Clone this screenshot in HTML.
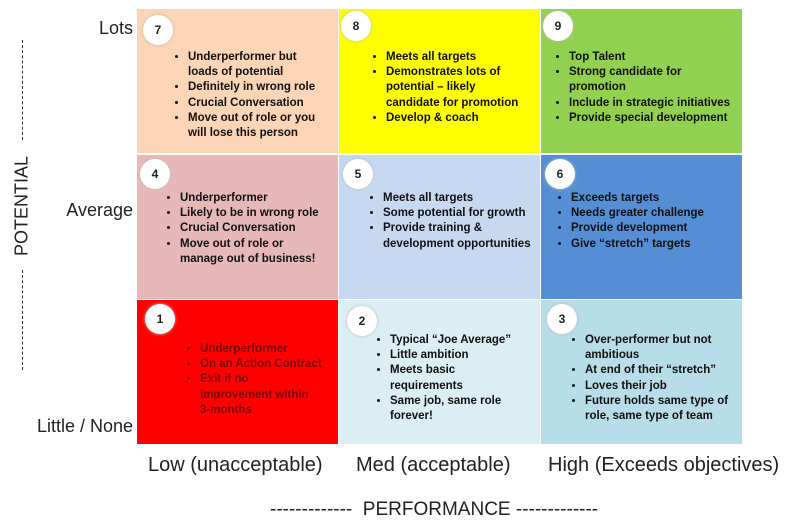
<!DOCTYPE html>
<html><head><style>
body{margin:0;width:800px;height:525px;background:#fff;position:relative;font-family:"Liberation Sans",sans-serif;overflow:hidden}
.c{position:absolute;width:201px;height:144px}
.n{position:absolute;width:30px;height:30px;border-radius:50%;background:#fff;box-shadow:0 0 3px #bbb;font-weight:bold;font-size:12px;text-align:center;line-height:30px;color:#222}
ul{position:absolute;margin:0;padding:0 0 0 16px;font-size:11.5px;font-weight:bold;line-height:15.2px;color:#111;white-space:nowrap}
.l{position:absolute;font-size:18px;color:#222;white-space:nowrap}
.b{font-size:20px}
.dv{position:absolute;left:22px;width:0;border-left:1px dashed #333}
</style></head><body>
<div class="c" style="left:137px;top:9px;background:#fbd5b5"></div>
<div class="c" style="left:339px;top:9px;background:#ffff00"></div>
<div class="c" style="left:541px;top:9px;background:#92d050"></div>
<div class="c" style="left:137px;top:155px;background:#e6b9b8"></div>
<div class="c" style="left:339px;top:155px;background:#c6d9f0"></div>
<div class="c" style="left:541px;top:155px;background:#558ed5"></div>
<div class="c" style="left:137px;top:300px;background:#ff0000"></div>
<div class="c" style="left:339px;top:300px;background:#dbeef3"></div>
<div class="c" style="left:541px;top:300px;background:#b7dde8"></div>

<div class="n" style="left:143px;top:15px">7</div>
<div class="n" style="left:341px;top:11px">8</div>
<div class="n" style="left:543px;top:11px">9</div>
<div class="n" style="left:140px;top:159px">4</div>
<div class="n" style="left:343px;top:159px">5</div>
<div class="n" style="left:545px;top:159px">6</div>
<div class="n" style="left:145px;top:304px">1</div>
<div class="n" style="left:347px;top:306px">2</div>
<div class="n" style="left:547px;top:304px">3</div>

<ul style="left:172px;top:50px"><li>Underperformer but<br>loads of potential</li><li>Definitely in wrong role</li><li>Crucial Conversation</li><li>Move out of role or you<br>will lose this person</li></ul>
<ul style="left:370px;top:50px"><li>Meets all targets</li><li>Demonstrates lots of<br>potential – likely<br>candidate for promotion</li><li>Develop &amp; coach</li></ul>
<ul style="left:553px;top:50px"><li>Top Talent</li><li>Strong candidate for<br>promotion</li><li>Include in strategic initiatives</li><li>Provide special development</li></ul>
<ul style="left:164px;top:191px"><li>Underperformer</li><li>Likely to be in wrong role</li><li>Crucial Conversation</li><li>Move out of role or<br>manage out of business!</li></ul>
<ul style="left:367px;top:191px"><li>Meets all targets</li><li>Some potential for growth</li><li>Provide training &amp;<br>development opportunities</li></ul>
<ul style="left:555px;top:191px"><li>Exceeds targets</li><li>Needs greater challenge</li><li>Provide development</li><li>Give “stretch” targets</li></ul>
<ul style="left:184px;top:342px;color:#7a0000"><li>Underperformer</li><li>On an Action Contract</li><li>Exit if no<br>improvement within<br>3-months</li></ul>
<ul style="left:374px;top:333px"><li>Typical “Joe Average”</li><li>Little ambition</li><li>Meets basic<br>requirements</li><li>Same job, same role<br>forever!</li></ul>
<ul style="left:569px;top:333px"><li>Over-performer but not<br>ambitious</li><li>At end of their “stretch”</li><li>Loves their job</li><li>Future holds same type of<br>role, same type of team</li></ul>

<div class="l" style="right:667px;top:18px">Lots</div>
<div class="l" style="right:667px;top:200px">Average</div>
<div class="l" style="right:667px;top:416px">Little / None</div>
<div class="l b" style="left:148px;top:454px">Low (unacceptable)</div>
<div class="l b" style="left:356px;top:454px">Med (acceptable)</div>
<div class="l b" style="left:548px;top:454px">High (Exceeds objectives)</div>
<div class="l" style="left:270px;top:499px;font-size:19px">------------- &nbsp;PERFORMANCE -------------</div>
<div class="dv" style="top:40px;height:100px"></div>
<div class="dv" style="top:270px;height:100px"></div>
<div class="l" style="left:22px;top:206px;transform:translate(-50%,-50%) rotate(-90deg)">POTENTIAL</div>
</body></html>
